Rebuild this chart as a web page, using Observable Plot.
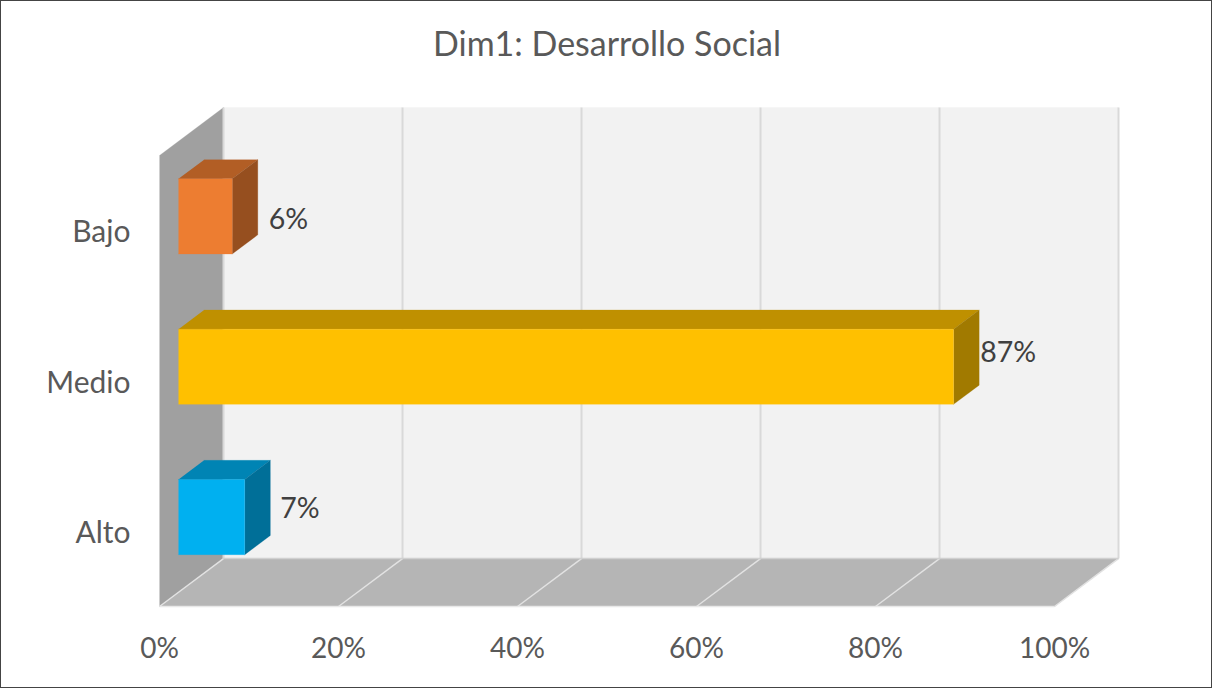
<!DOCTYPE html>
<html>
<head>
<meta charset="utf-8">
<style>
html,body{margin:0;padding:0;background:#fff}
svg{display:block;outline:1px solid #444;outline-offset:-1px}
</style>
<script src="https://cdn.jsdelivr.net/npm/d3@7"></script>
<script src="https://cdn.jsdelivr.net/npm/@observablehq/plot@0.6"></script>
</head>
<body>
<script>
const title = "Dim1: Desarrollo Social";
const categories = ["Alto", "Medio", "Bajo"];
const values = [7.4, 86.6, 6];
const shownLabels = ["7%", "87%", "6%"];
const xTicks = [0, 20, 40, 60, 80, 100];
const frontColors = ["#00B0F0", "#FFC000", "#ED7D31"];
const topColors = ["#0084B4", "#BF9000", "#B25E25"];
const sideColors = ["#006F98", "#A17A00", "#964F1F"];

// Perspective of the depth axis, in data units for one full depth of the box.
const depthX = 7.15, depthY = 0.319;
const barStart = 0.297, barDepth = 0.4, barBand = 0.5;
const project = (v, row, d) => ({x: v + d * depthX, y: row + d * depthY});
const xMax = 100, rows = categories.length;

const poly = (pts, fill) => Plot.line(pts, {x: "x", y: "y", fill, stroke: fill, strokeWidth: 0.25});

const backWall = [project(0,0,1), project(xMax,0,1), project(xMax,rows,1), project(0,rows,1)];
const sideWall = [project(0,0,0), project(0,0,1), project(0,rows,1), project(0,rows,0)];
const floor = [project(0,0,0), project(xMax,0,0), project(xMax,0,1), project(0,0,1)];

const link = (data, from, to, stroke, strokeWidth) => Plot.link(data, {
  x1: t => from(t).x, y1: t => from(t).y, x2: t => to(t).x, y2: t => to(t).y,
  stroke, strokeWidth
});

const barFaces = values.flatMap((v, i) => {
  const lo = i + (1 - barBand) / 2, hi = lo + barBand;
  const f = barStart, b = barStart + barDepth;
  return [
    poly([project(0,hi,f), project(v,hi,f), project(v,hi,b), project(0,hi,b)], topColors[i]),
    poly([project(v,lo,f), project(v,lo,b), project(v,hi,b), project(v,hi,f)], sideColors[i]),
    poly([project(0,lo,f), project(v,lo,f), project(v,hi,f), project(0,hi,f)], frontColors[i])
  ];
});

const labelDx = [10, 1, 11], labelDy = [-8, -14, 3];
const labelMarks = values.map((v, i) => {
  const p = project(v, i + 0.5, barStart + barDepth);
  const q = project(v, i + 0.5, barStart);
  return Plot.text([shownLabels[i]], {
    x: () => p.x, y: () => q.y, text: d => d, textAnchor: "start",
    dx: labelDx[i], dy: labelDy[i], fontSize: 28.5, fill: "#404040"
  });
});

const chart = Plot.plot({
  width: 1212, height: 688,
  marginLeft: 159, marginRight: 158, marginTop: 155, marginBottom: 82,
  style: {fontFamily: "Lato, sans-serif", background: "#fff", overflow: "visible"},
  x: {domain: [0, xMax]},
  y: {domain: [0, rows]},
  marks: [
    poly(backWall, "#F2F2F2"),
    poly(sideWall, "#A0A0A0"),
    poly(floor, "#B5B5B5"),
    link(xTicks, t => project(t,0,1), t => project(t,rows,1), "#D9D9D9", 2),
    link(xTicks, t => project(t,0,0), t => project(t,0,1), "#E2E2E2", 1.5),
    link([0], () => project(0,0,0), () => project(xMax,0,0), "#E8E8E8", 1.5),
    link([0], () => project(0,0,1), () => project(xMax,0,1), "#D0D0D0", 1.5),
    ...barFaces,
    ...labelMarks,
    Plot.axisX({
      ticks: xTicks, tickSize: 0, tickPadding: 32, tickFormat: d => d + "%",
      fontSize: 28, color: "#595959", label: null
    }),
    Plot.axisY({
      ticks: categories.map((c, i) => i + 0.5), tickSize: 0, tickPadding: 29, dy: 2,
      tickFormat: d => categories[Math.floor(d)],
      fontSize: 30, color: "#595959", label: null
    }),
    Plot.text([title], {
      frameAnchor: "top", dy: -110, text: d => d, lineAnchor: "middle",
      fontSize: 34, fill: "#595959"
    })
  ]
});
document.body.appendChild(chart);
</script>
</body>
</html>
